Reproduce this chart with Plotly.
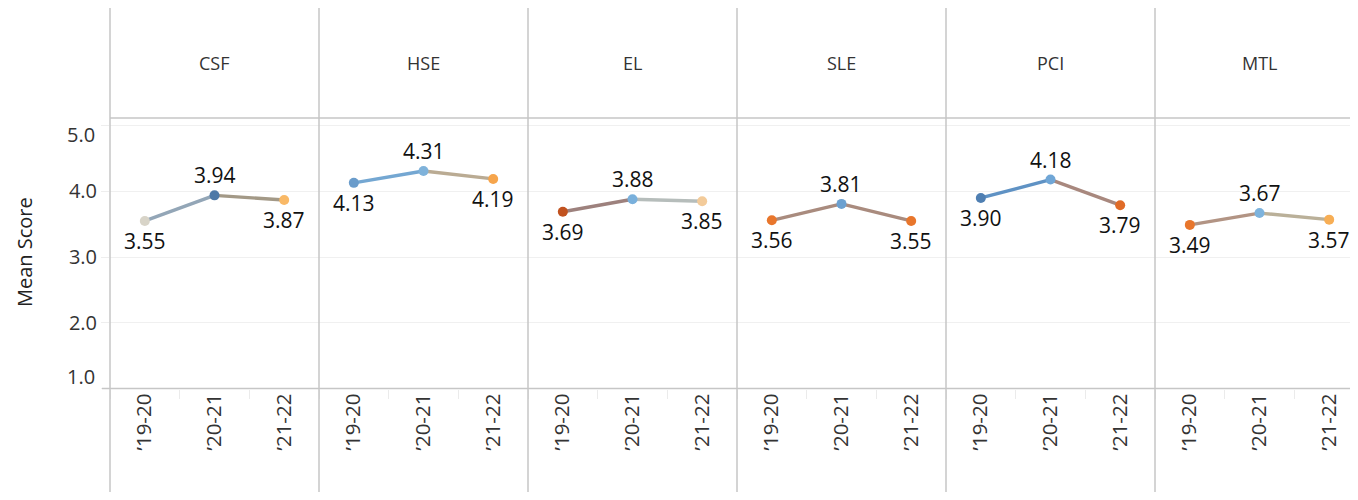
import plotly.graph_objects as go

# ---- data ----
categories = ["CSF", "HSE", "EL", "SLE", "PCI", "MTL"]
years = ["\u201919-20", "\u201920-21", "\u201921-22"]
csf = [3.55, 3.94, 3.87]
hse = [4.13, 4.31, 4.19]
el = [3.69, 3.88, 3.85]
sle = [3.56, 3.81, 3.55]
pci = [3.90, 4.18, 3.79]
mtl = [3.49, 3.67, 3.57]
series = [csf, hse, el, sle, pci, mtl]
y_ticks = [1.0, 2.0, 3.0, 4.0, 5.0]

# point colours
point_colors = [
    ["#d8d4c8", "#4e79a7", "#f9b967"],
    ["#6a9ccb", "#7fb2da", "#f6a54c"],
    ["#c1521f", "#79b0dc", "#f3cb9a"],
    ["#e8762c", "#6ba0d0", "#e8762c"],
    ["#4f7fb2", "#70a6d6", "#e06b27"],
    ["#e8762c", "#7db3dd", "#f7ae55"],
]

# ---- layout geometry (pixels, figure coords; page body has an 8px margin) ----
OFF = 8
W, H = 1358 - 2 * OFF, 500 - 2 * OFF
PANEL_X0 = 110 - OFF
PANEL_W = 209
PLOT_TOP = 118 - OFF
PLOT_BOT = 388.5 - OFF
PX_PER_UNIT = 65.7
HEADER_Y = 63 - OFF
FONT = "Open Sans"


def blend(c1, c2):
    a = [int(c1[i:i + 2], 16) for i in (1, 3, 5)]
    b = [int(c2[i:i + 2], 16) for i in (1, 3, 5)]
    return "#" + "".join(f"{(x + y) // 2:02x}" for x, y in zip(a, b))


fig = go.Figure()
layout = {}
annotations = []
shapes = []

ydom = [1 - PLOT_BOT / H, 1 - PLOT_TOP / H]
yrange = [1.0, 1.0 + (PLOT_BOT - PLOT_TOP) / PX_PER_UNIT]

for i, (cat, vals, cols) in enumerate(zip(categories, series, point_colors)):
    xname = "x" if i == 0 else f"x{i + 1}"
    axkey = "xaxis" if i == 0 else f"xaxis{i + 1}"
    x0 = PANEL_X0 + PANEL_W * i
    x1 = min(x0 + PANEL_W, W)
    layout[axkey] = dict(
        domain=[x0 / W, x1 / W],
        type="category",
        categoryorder="array",
        categoryarray=years,
        range=[-0.5, -0.5 + 3 * (x1 - x0) / PANEL_W],
        anchor="y",
        tickangle=-90,
        tickson="boundaries",
        ticks="outside",
        ticklen=9,
        tickcolor="#ebebeb",
        tickfont=dict(family=FONT, size=20.5, color="#333333"),
        showgrid=False,
        zeroline=False,
        showline=False,
        automargin=False,
        fixedrange=True,
    )
    # line segments
    for j in range(len(vals) - 1):
        fig.add_trace(go.Scatter(
            x=[years[j], years[j + 1]], y=[vals[j], vals[j + 1]],
            mode="lines", xaxis=xname, yaxis="y",
            line=dict(color=blend(cols[j], cols[j + 1]), width=3.4),
            hoverinfo="skip", showlegend=False,
        ))
    # markers
    fig.add_trace(go.Scatter(
        x=years, y=vals, mode="markers", xaxis=xname, yaxis="y",
        marker=dict(color=cols, size=10, line=dict(width=0)),
        showlegend=False,
    ))
    # value labels
    for j, v in enumerate(vals):
        up = (j == 1)
        annotations.append(dict(
            x=years[j], y=v, xref=xname, yref="y",
            xanchor="center", yanchor="middle",
            text=f"{v:.2f}", showarrow=False,
            yshift=20 if up else -20,
            font=dict(family=FONT, size=21, color="#111111"),
        ))
    # header label
    annotations.append(dict(
        x=(x0 + PANEL_W / 2) / W, y=1 - HEADER_Y / H, xref="paper", yref="paper",
        xanchor="center", yanchor="middle",
        text=cat, showarrow=False,
        font=dict(family=FONT, size=18, color="#333333"),
    ))
    # vertical separator
    shapes.append(dict(type="line", xref="paper", yref="paper",
                       x0=x0 / W, x1=x0 / W, y0=0, y1=1,
                       line=dict(color="#c6c6c6", width=1.5)))

# header bottom line and x axis line
shapes.append(dict(type="line", xref="paper", yref="paper",
                   x0=PANEL_X0 / W, x1=1, y0=1 - PLOT_TOP / H, y1=1 - PLOT_TOP / H,
                   line=dict(color="#c6c6c6", width=1.5)))
shapes.append(dict(type="line", xref="paper", yref="paper",
                   x0=(PANEL_X0 - 8) / W, x1=1, y0=1 - PLOT_BOT / H, y1=1 - PLOT_BOT / H,
                   line=dict(color="#c6c6c6", width=1.5)))

# y axis title
annotations.append(dict(
    x=(24 - OFF) / W, y=1 - (252 - OFF) / H, xref="paper", yref="paper",
    xanchor="center", yanchor="middle",
    text="Mean Score", textangle=-90, showarrow=False,
    font=dict(family=FONT, size=20, color="#222222"),
))

# edge tick labels are nudged inside the pane (as in the original)
edge_ticks = {y_ticks[0]: 12, y_ticks[-1]: -9}
tick_text = []
for t in y_ticks:
    if t in edge_ticks:
        tick_text.append("")
        annotations.append(dict(
            x=(97 - OFF) / W, y=t, xref="paper", yref="y",
            xanchor="right", yanchor="middle", yshift=edge_ticks[t],
            text=f"{t:.1f}", showarrow=False,
            font=dict(family=FONT, size=20, color="#333333"),
        ))
    else:
        tick_text.append(f"{t:.1f}")

layout["yaxis"] = dict(
    domain=ydom, range=yrange, anchor="x",
    tickvals=y_ticks, ticktext=tick_text,
    ticks="outside", ticklen=8, tickcolor="#eeeeee",
    tickfont=dict(family=FONT, size=20, color="#333333"),
    showgrid=True, gridcolor="#f0f0f0", gridwidth=1,
    zeroline=False, showline=False, automargin=False, fixedrange=True,
)

fig.update_layout(
    **layout,
    width=W, height=H,
    margin=dict(l=0, r=0, t=0, b=0, autoexpand=False),
    paper_bgcolor="white", plot_bgcolor="white",
    showlegend=False,
    annotations=annotations,
    shapes=shapes,
)

fig.write_html("out.html")
